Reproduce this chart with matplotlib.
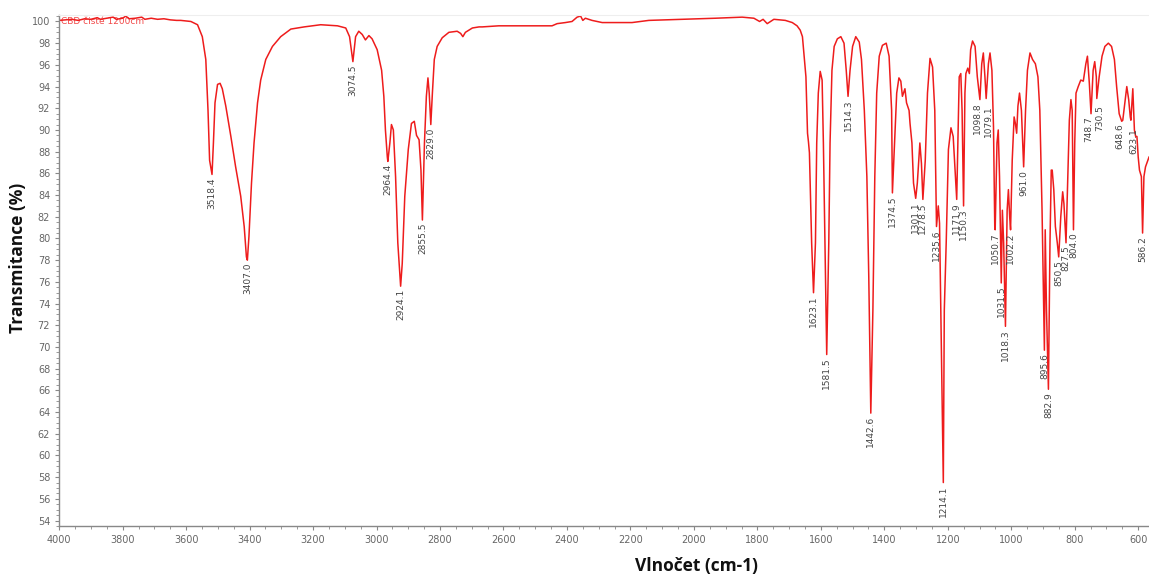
import numpy as np
import matplotlib.pyplot as plt
from matplotlib.ticker import MultipleLocator

# IR spectrum (wavenumber cm-1, transmittance %)
wavenumber = [
    4000, 3980, 3960, 3940, 3920, 3900, 3880, 3870, 3850, 3830, 3820, 3800,
    3790, 3780, 3760, 3740, 3730, 3710, 3690, 3670, 3650, 3630, 3617, 3585,
    3564, 3549, 3538, 3531, 3526, 3518.4, 3514, 3509, 3501, 3493, 3486, 3475,
    3459, 3444, 3428, 3417, 3410, 3407, 3402, 3394, 3386, 3375, 3365, 3349,
    3328, 3302, 3270, 3228, 3176, 3123, 3097, 3085, 3074.5, 3066, 3056, 3045,
    3035, 3024, 3014, 2998, 2984, 2977, 2972, 2966, 2964.4, 2958, 2953, 2947,
    2940, 2933, 2924.1, 2919, 2911, 2900, 2890, 2881, 2874, 2866, 2860, 2855.5,
    2849, 2843, 2838, 2834, 2829.0, 2824, 2818, 2809, 2793, 2772, 2746, 2735,
    2728, 2720, 2698, 2677, 2667, 2615, 2510, 2447, 2431, 2405, 2384, 2368,
    2357, 2350, 2342, 2321, 2289, 2195, 2142, 2037, 1932, 1848, 1811, 1793,
    1782, 1769, 1748, 1712, 1690, 1675, 1665, 1658, 1647, 1642, 1639, 1636,
    1629, 1623.1, 1617, 1613, 1608, 1602, 1596, 1592, 1586, 1581.5, 1575, 1571,
    1565, 1558, 1548, 1537, 1527, 1520, 1514.3, 1508, 1500, 1490, 1479, 1472,
    1463, 1455, 1449, 1442.6, 1436, 1430, 1424, 1416, 1406, 1394, 1385, 1377,
    1374.5, 1367, 1361, 1354, 1348, 1343, 1335, 1330, 1322, 1319, 1313, 1308,
    1301.1, 1296, 1288, 1283, 1278.5, 1271, 1264, 1256, 1248, 1241, 1235.6, 1230,
    1226, 1222, 1214.1, 1211, 1205, 1198, 1190, 1183, 1177, 1171.9, 1164, 1159,
    1155, 1150.3, 1146, 1143, 1137, 1132, 1128, 1122, 1114, 1107, 1098.8, 1093,
    1088, 1083, 1079.1, 1072, 1067, 1061, 1056, 1052, 1050.7, 1045, 1041, 1037,
    1031.5, 1028, 1024, 1018.3, 1013, 1009, 1005, 1002.2, 997, 991, 987, 983,
    979, 974, 968, 964, 961.0, 955, 949, 941, 933, 924, 916, 910, 903, 895.6,
    893, 889, 882.9, 878, 874, 871, 866, 861, 855, 850.5, 844, 838, 834, 827.5,
    822, 817, 812, 808, 804.0, 800, 796, 789, 781, 773, 765, 760, 754, 748.7,
    742, 737, 732, 730.5, 723, 714, 705, 694, 684, 675, 668, 660, 652, 648.6,
    641, 636, 630, 625, 623.1, 617, 612, 608, 604, 600, 596, 590, 586.2, 582,
    577, 566,
]
transmittance = [
    100.1, 100.15, 100.2, 100.1, 100.25, 100.2, 100.35, 100.2, 100.3, 100.4, 100.2, 100.3,
    100.5, 100.25, 100.3, 100.4, 100.2, 100.3, 100.2, 100.25, 100.15, 100.1, 100.1, 100.0,
    99.7, 98.6, 96.5, 91.8, 87.2, 85.9, 88.8, 92.5, 94.2, 94.3, 93.8, 92.2,
    89.4, 86.6, 83.9, 81.1, 78.3, 78.0, 80.2, 85.1, 88.8, 92.5, 94.6, 96.5,
    97.7, 98.6, 99.3, 99.5, 99.7, 99.6, 99.4, 98.6, 96.3, 98.6, 99.1, 98.8,
    98.3, 98.7, 98.4, 97.4, 95.5, 93.1, 90.0, 87.5, 87.1, 88.8, 90.5, 90.0,
    85.7, 79.6, 75.6, 77.7, 83.9, 88.2, 90.6, 90.8, 89.5, 89.1, 86.3, 81.7,
    88.8, 93.1, 94.8, 93.4, 90.5, 93.4, 96.5, 97.7, 98.5, 99.0, 99.1, 98.9,
    98.6, 99.0, 99.4, 99.5, 99.5, 99.6, 99.6, 99.6, 99.8, 99.9, 100.0, 100.4,
    100.5, 100.1, 100.3, 100.1, 99.9, 99.9, 100.1, 100.2, 100.3, 100.4, 100.3, 100.0,
    100.2, 99.8, 100.2, 100.1, 99.9, 99.6, 99.2, 98.6, 94.9, 89.7, 88.9, 87.9,
    79.6, 75.0, 79.6, 88.8, 93.4, 95.4, 94.6, 88.8, 78.0, 69.3, 79.6, 88.8,
    95.5, 97.7, 98.4, 98.6, 98.0, 95.5, 93.1, 95.5, 97.7, 98.6, 98.1, 96.5,
    91.8, 85.7, 76.5, 63.9, 73.4, 85.7, 93.4, 96.8, 97.8, 98.0, 96.8, 91.8,
    84.2, 89.4, 93.4, 94.8, 94.5, 93.1, 93.8, 92.5, 91.8, 90.6, 88.8, 85.1,
    83.7, 85.1, 88.8, 86.9, 83.6, 87.2, 93.4, 96.6, 95.8, 91.8, 81.1, 83.0,
    81.4, 73.4, 57.5, 73.4, 79.6, 88.2, 90.2, 89.4, 86.3, 83.6, 94.9, 95.2,
    91.8, 83.0, 93.4, 95.2, 95.7, 95.2, 97.4, 98.2, 97.7, 94.9, 92.8, 96.1,
    97.1, 94.9, 92.9, 96.1, 97.1, 95.5, 90.3, 81.1, 80.8, 88.8, 90.0, 85.7,
    75.9, 82.6, 79.6, 71.9, 82.6, 84.5, 82.0, 80.8, 87.2, 91.2, 90.6, 89.7,
    92.2, 93.4, 91.8, 88.8, 86.6, 91.8, 95.5, 97.1, 96.5, 96.1, 94.9, 91.8, 82.6, 69.7,
    80.8, 73.4, 66.1, 79.6, 86.3, 86.3, 84.5, 81.1, 79.6, 78.3, 82.0, 84.3, 83.2, 79.6,
    85.7, 90.9, 92.8, 91.8, 80.8, 88.8, 93.4, 94.0, 94.6, 94.5, 96.1, 96.8, 94.3, 91.5,
    95.5, 96.3, 94.9, 92.9, 94.9, 96.8, 97.7, 98.0, 97.7, 96.5, 94.0, 91.5, 90.8, 90.9,
    92.8, 94.0, 92.8, 91.2, 90.9, 93.8, 90.0, 89.4, 89.4, 87.5, 86.3, 85.7, 80.5, 85.7,
    86.6, 87.5,
]

# labelled peaks
peak_labels = [
    "3518.4", "3407.0", "3074.5", "2964.4", "2924.1", "2855.5", "2829.0",
    "1623.1", "1581.5", "1514.3", "1442.6", "1374.5", "1301.1", "1278.5",
    "1235.6", "1214.1", "1171.9", "1150.3", "1098.8", "1079.1", "1050.7",
    "1031.5", "1018.3", "1002.2", "961.0", "895.6", "882.9", "850.5",
    "827.5", "804.0", "748.7", "730.5", "648.6", "623.1", "586.2",
]
# a few labels sit on top of each other, nudge them a bit (points)
nudge = {"1098.8": (-2, 0), "1079.1": (2, -3), "648.6": (-2, 0), "623.1": (2, -4),
         "748.7": (-2, 0), "730.5": (2, -3)}

red = "#ee1c1c"
grey = "#666666"

fig = plt.figure(figsize=(11.49, 5.87), dpi=100)
ax = fig.add_axes([0.0515, 0.104, 0.9485, 0.8705])

ax.plot(wavenumber, transmittance, color=red, lw=1.1)

# peak annotations below each minimum
wn_arr = np.array(wavenumber, dtype=float)
tr_arr = np.array(transmittance, dtype=float)
for lab in peak_labels:
    w = float(lab)
    t = tr_arr[np.argmin(np.abs(wn_arr - w))]
    dx, dy = nudge.get(lab, (0, 0))
    ax.annotate(lab, (w, t), xytext=(dx, -2 + dy), textcoords="offset points",
                rotation=90, ha="center", va="top", fontsize=6.5, color="#444444")

ax.text(3995, 100.45, "CBD čisté 1200cm", color=red, fontsize=6.5, va="top", ha="left", alpha=0.8)

ax.set_xlim(4000, 566)
ax.set_ylim(53.5, 100.6)
ax.xaxis.set_major_locator(MultipleLocator(200))
ax.xaxis.set_minor_locator(MultipleLocator(50))
ax.yaxis.set_major_locator(MultipleLocator(2))
ax.yaxis.set_minor_locator(MultipleLocator(0.5))
ax.tick_params(axis="both", which="major", labelsize=7, labelcolor=grey, color="#888888", length=3, width=0.8)
ax.tick_params(axis="both", which="minor", color="#888888", length=2, width=0.6)

for s in ["left", "bottom"]:
    ax.spines[s].set_color("#888888")
    ax.spines[s].set_linewidth(1.0)
ax.spines["top"].set_color("#eeeeee")
ax.spines["right"].set_visible(False)

fig.text(0.606, 0.02, "Vlnočet (cm-1)", fontsize=12.5, fontweight="bold",
         family="Open Sans", ha="center", va="bottom", color="#111111")
fig.text(0.016, 0.56, "Transmitance (%)", fontsize=12.5, fontweight="bold",
         family="Open Sans", rotation=90, ha="center", va="center", color="#111111")

fig.savefig("out.png", dpi=100)
